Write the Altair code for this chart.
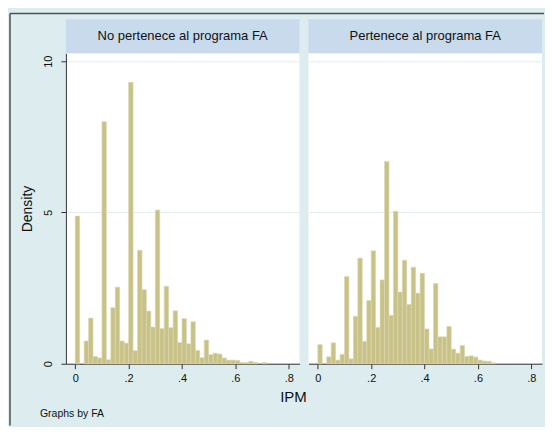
import altair as alt
import pandas as pd

# ---- data (density per bin, bins of width 1/60 starting at 0) ----
BIN_WIDTH = 1 / 60
no_fa_density = [4.88, 0, 0.75, 1.51, 0.24, 0.19, 8.0, 0.13, 1.85, 2.53, 0.75, 0.68, 9.3, 0.43, 3.75,
                 2.45, 1.74, 1.21, 5.08, 1.16, 2.56, 1.19, 1.75, 0.70, 1.49, 0.66, 1.39, 0.44, 0.20, 0.78,
                 0.30, 0.35, 0.32, 0.19, 0.12, 0.12, 0.11, 0.04, 0.04, 0.08, 0.04, 0, 0.04]
fa_density = [0.63, 0, 0.23, 0.69, 0.12, 0.31, 2.88, 0.16, 1.57, 3.49, 0.74, 2.09, 3.73, 1.20, 2.77,
              6.68, 1.60, 5.04, 2.37, 3.42, 1.96, 3.19, 2.33, 2.99, 1.15, 0.49, 2.65, 0.89, 0.89, 1.23,
              0.48, 0.35, 0.60, 0.24, 0.26, 0.22, 0.12, 0.09, 0.08, 0.03]
panel_titles = ["No pertenece al programa FA", "Pertenece al programa FA"]
x_ticks = [0, 0.2, 0.4, 0.6, 0.8]
y_ticks = [0, 5, 10]
x_title = "IPM"
y_title = "Density"
note = "Graphs by FA"

FONT = "Liberation Sans"
BG = "#DDECEE"
HEADER = "#C8DAEC"
BAR = "#C8C288"
BAR_EDGE = "#DCD8AE"
GRID = "#E2EEF0"
AXIS = "#333333"
TXT = "#111111"
FRAME = "#505050"
W, H = 234, 311
HEAD_H = 34


def make_df(dens):
    rows = [{"start": i * BIN_WIDTH, "end": (i + 1) * BIN_WIDTH, "density": d}
            for i, d in enumerate(dens) if d > 0]
    return pd.DataFrame(rows)


label_expr = "datum.value == 0 ? '0' : replace(format(datum.value, '.1f'), '0.', '.')"
one = pd.DataFrame({"k": [0]})


def text_layer(txt, x, y, size, align="center"):
    return alt.Chart(pd.DataFrame({"t": [txt]})).mark_text(
        font=FONT, fontSize=size, color=TXT, align=align, baseline="middle").encode(
        text="t:N", x=alt.value(x), y=alt.value(y))


def panel(dens, title, left):
    if left:
        yaxis = alt.Axis(values=y_ticks, title=y_title, grid=True, gridColor=GRID, gridWidth=1,
                         labelAngle=270, labelAlign="center", labelBaseline="middle",
                         labelPadding=12, tickSize=5, titlePadding=8)
    else:
        yaxis = alt.Axis(values=y_ticks, title=None, grid=True, gridColor=GRID, gridWidth=1,
                         labels=False, ticks=False, domain=False)
    head_rect = alt.Chart(pd.DataFrame({"t": [title]})).mark_rect(color=HEADER).encode(
        x=alt.value(0), x2=alt.value(W), y=alt.value(-HEAD_H), y2=alt.value(0))
    head_text = text_layer(title, W / 2, -HEAD_H / 2, 13)
    bars = alt.Chart(make_df(dens)).mark_rect(color=BAR, stroke=BAR_EDGE, strokeWidth=0.6).encode(
        x=alt.X("start:Q", scale=alt.Scale(domain=[-0.035, 0.84], nice=False, zero=False),
                axis=alt.Axis(values=x_ticks, labelExpr=label_expr, title=None, grid=False,
                              tickSize=5, labelPadding=4)),
        x2="end:Q",
        y=alt.Y("density:Q", scale=alt.Scale(domain=[0, 10.26], nice=False), axis=yaxis),
        y2=alt.datum(0),
    )
    layers = [bars, head_rect, head_text]
    if left:
        frame_left = alt.Chart(one).mark_rule(color=FRAME, strokeWidth=1.5).encode(
            x=alt.value(-56), y=alt.value(-40), y2=alt.value(373))
        frame_top = alt.Chart(one).mark_rule(color=FRAME, strokeWidth=1.5).encode(
            x=alt.value(-56), x2=alt.value(479), y=alt.value(-40))
        layers += [text_layer(x_title, 228, 344, 15), text_layer(note, -26, 361, 10.5, "left"),
                   frame_left, frame_top]
    return alt.layer(*layers).properties(width=W, height=H,
                                         view=alt.ViewBackground(fill="white", stroke=None))


left_panel = panel(no_fa_density, panel_titles[0], True)
right_panel = panel(fa_density, panel_titles[1], False)

chart = alt.hconcat(left_panel, right_panel, spacing=9, bounds="flush").properties(
    background=BG,
    padding={"left": 1, "top": 4, "right": 0, "bottom": 0},
).configure_axis(
    labelFont=FONT, labelFontSize=11, labelColor=TXT,
    titleFont=FONT, titleFontSize=14, titleFontWeight="normal", titleColor=TXT,
    domainColor=AXIS, tickColor=AXIS, domainWidth=1, tickWidth=1,
).configure_view(stroke=None)

chart.save("out.html", embed_options={"renderer": "svg", "actions": False})
